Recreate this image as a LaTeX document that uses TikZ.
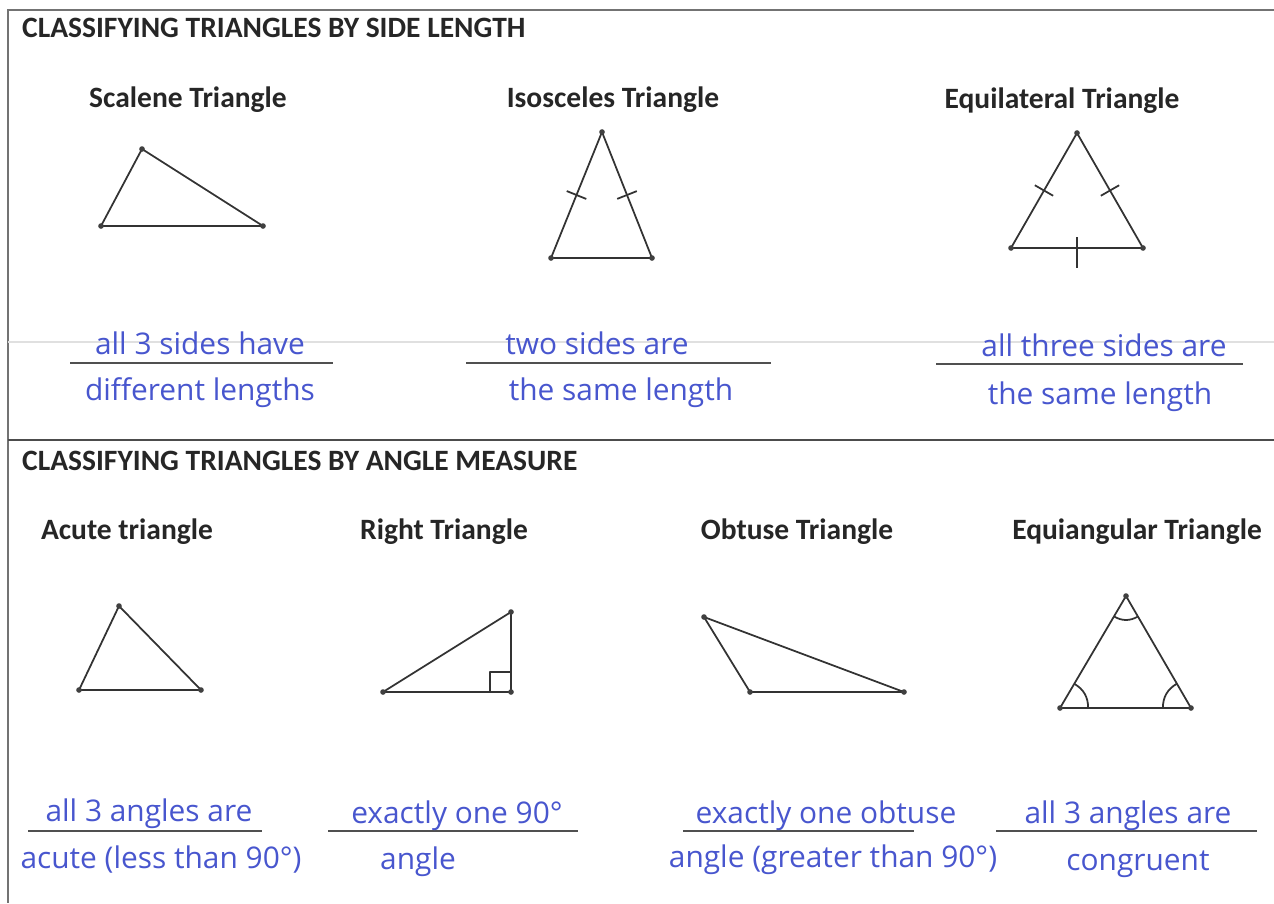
\documentclass[tikz,border=0pt]{standalone}
\usepackage{fontspec}
\setmainfont{Carlito}
\newfontfamily\handfont{Open Sans}
\usetikzlibrary{calc}
\definecolor{inkblue}{RGB}{72,86,206}
\definecolor{rulegray}{RGB}{80,80,80}

\begin{document}
\begin{tikzpicture}[x=0.02cm, y=-0.02cm,
    head/.style={anchor=west, font=\bfseries\fontsize{16.8}{19}\selectfont, text=black!85},
    kind/.style={font=\bfseries\fontsize{16.8}{19}\selectfont, text=black!85},
    tri/.style={line width=1pt, black!80, line join=round},
    hand/.style={font=\handfont\fontsize{17}{19}\selectfont, text=inkblue},
    uline/.style={line width=1.3pt, rulegray}]
    \useasboundingbox (0,0) rectangle (1274,903);

    % frame
    \draw[line width=1pt, black!55] (1274,10) -- (8,10) -- (8,903);
    \draw[line width=1.2pt, black!70] (8,440) -- (1274,440);
    \draw[line width=0.6pt, black!12] (8,342) -- (1274,342);

    % side lengths
    \node[head] (sidehead) at (16,28) {CLASSIFYING TRIANGLES BY SIDE LENGTH};
    \node[kind] (scalene) at (188,100) {Scalene Triangle};
    \node[kind] (isosceles) at (613,100) {Isosceles Triangle};
    \node[kind] (equilateral) at (1062,101) {Equilateral Triangle};

    \coordinate (s1) at (142,149);
    \coordinate (s2) at (101,226);
    \coordinate (s3) at (263,226);
    \draw[tri] (s1) -- (s2) -- (s3) -- cycle;

    \coordinate (i1) at (602,132);
    \coordinate (i2) at (551,258);
    \coordinate (i3) at (652,258);
    \draw[tri] (i1) -- (i2) -- (i3) -- cycle;
    \draw[tri] ($(i1)!0.5!(i2)!6pt!90:(i2)$) -- ($(i1)!0.5!(i2)!6pt!-90:(i2)$);
    \draw[tri] ($(i1)!0.5!(i3)!6pt!90:(i3)$) -- ($(i1)!0.5!(i3)!6pt!-90:(i3)$);

    \coordinate (e1) at (1077,133);
    \coordinate (e2) at (1011,248);
    \coordinate (e3) at (1143,248);
    \draw[tri] (e1) -- (e2) -- (e3) -- cycle;
    \draw[tri] ($(e1)!0.5!(e2)!6pt!90:(e2)$) -- ($(e1)!0.5!(e2)!6pt!-90:(e2)$);
    \draw[tri] ($(e1)!0.5!(e3)!6pt!90:(e3)$) -- ($(e1)!0.5!(e3)!6pt!-90:(e3)$);
    \draw[tri] ($(e2)!0.5!(e3)$) +(0,-11) -- +(0,20);

    \foreach \p in {s1,s2,s3,i1,i2,i3,e1,e2,e3}
        \fill[black!75] (\p) circle (1.6pt);

    \coordinate (u1a) at (70,363);  \coordinate (u1b) at (333,363);
    \coordinate (u2a) at (466,363); \coordinate (u2b) at (771,363);
    \coordinate (u3a) at (936,364); \coordinate (u3b) at (1243,364);
    \draw[uline] (u1a) -- (u1b);
    \draw[uline] (u2a) -- (u2b);
    \draw[uline] (u3a) -- (u3b);

    \node[hand] (scaleneA) at (200,343) {all 3 sides have};
    \node[hand] (scaleneB) at (200,393) {different lengths};
    \node[hand] (isoA) at (597,343) {two sides are};
    \node[hand] (isoB) at (621,393) {the same length};
    \node[hand] (equiA) at (1104,345) {all three sides are};
    \node[hand] (equiB) at (1100,397) {the same length};

    % angle measure
    \node[head] (anglehead) at (16,461) {CLASSIFYING TRIANGLES BY ANGLE MEASURE};
    \node[kind] (acute) at (127,532) {Acute triangle};
    \node[kind] (right) at (444,532) {Right Triangle};
    \node[kind] (obtuse) at (797,532) {Obtuse Triangle};
    \node[kind] (equiangular) at (1137,532) {Equiangular Triangle};

    \coordinate (a1) at (119,606);
    \coordinate (a2) at (79,690);
    \coordinate (a3) at (201,690);
    \draw[tri] (a1) -- (a2) -- (a3) -- cycle;

    \coordinate (r1) at (511,612);
    \coordinate (r2) at (383,692);
    \coordinate (r3) at (511,692);
    \draw[tri] (r1) -- (r2) -- (r3) -- cycle;
    \draw[tri] ($(r3)+(-21,0)$) -- ++(0,-20) -- ++(21,0);

    \coordinate (o1) at (704,617);
    \coordinate (o2) at (750,692);
    \coordinate (o3) at (904,692);
    \draw[tri] (o1) -- (o2) -- (o3) -- cycle;

    \coordinate (q1) at (1126,596);
    \coordinate (q2) at (1060,708);
    \coordinate (q3) at (1191,708);
    \draw[tri] (q1) -- (q2) -- (q3) -- cycle;
    \draw[tri] ($(q2)!16pt!(q3)$) to[bend right=30] ($(q2)!16pt!(q1)$);
    \draw[tri] ($(q3)!16pt!(q2)$) to[bend left=30] ($(q3)!16pt!(q1)$);
    \draw[tri] ($(q1)!13.5pt!(q2)$) to[bend right=30] ($(q1)!13.5pt!(q3)$);

    \foreach \p in {a1,a2,a3,r1,r2,r3,o1,o2,o3,q1,q2,q3}
        \fill[black!75] (\p) circle (1.6pt);

    \coordinate (v1a) at (28,831);  \coordinate (v1b) at (262,831);
    \coordinate (v2a) at (328,831); \coordinate (v2b) at (578,831);
    \coordinate (v3a) at (683,831); \coordinate (v3b) at (914,831);
    \coordinate (v4a) at (996,831); \coordinate (v4b) at (1257,831);
    \draw[uline] (v1a) -- (v1b);
    \draw[uline] (v2a) -- (v2b);
    \draw[uline] (v3a) -- (v3b);
    \draw[uline] (v4a) -- (v4b);

    \node[hand] (acuteA) at (149,814) {all 3 angles are};
    \node[hand] (acuteB) at (161,860) {acute (less than 90°)};
    \node[hand] (rightA) at (457,816) {exactly one 90°};
    \node[hand] (rightB) at (418,862) {angle};
    \node[hand] (obtuseA) at (826,816) {exactly one obtuse};
    \node[hand] (obtuseB) at (833,860) {angle (greater than 90°)};
    \node[hand] (equiangA) at (1128,816) {all 3 angles are};
    \node[hand] (equiangB) at (1138,864) {congruent};
\end{tikzpicture}
\end{document}
